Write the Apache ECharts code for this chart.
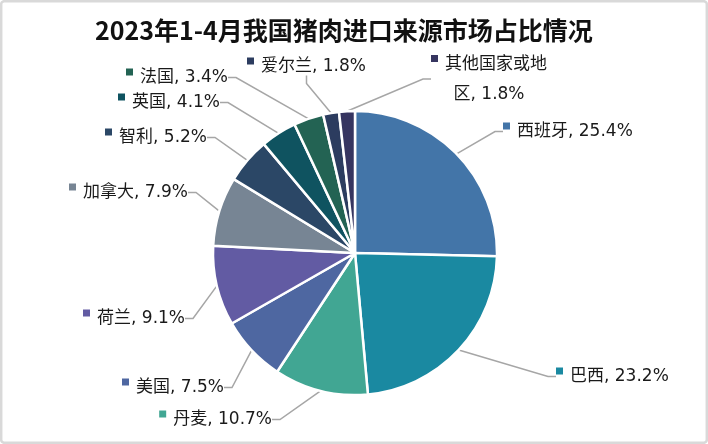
<!DOCTYPE html>
<html><head><meta charset="utf-8">
<script src="https://cdn.jsdelivr.net/npm/echarts@6/dist/echarts.min.js"></script>
<style>html,body{margin:0;padding:0;background:#fff}#c{width:708px;height:444px}</style>
</head><body><div id="c"></div>
<script>
const titleText = '2023年1-4月我国猪肉进口来源市场占比情况';
const categories = ['西班牙','巴西','丹麦','美国','荷兰','加拿大','智利','英国','法国','爱尔兰','其他国家或地区'];
const shares = [25.4, 23.2, 10.7, 7.5, 9.1, 7.9, 5.2, 4.1, 3.4, 1.8, 1.8];
const labelNames = ['西班牙','巴西','丹麦','美国','荷兰','加拿大','智利','英国','法国','爱尔兰','其他国家或地\n区'];
const colors = ['#4375a8','#1a89a1','#41a693','#4e67a1','#625ba3','#778594','#2b4766','#0f5360','#236353','#2c3c5f','#363560'];
const labelAnchors = [
  [503,132,'left','middle'],[556,377,'left','middle'],[272,420,'right','middle'],[224,388,'right','middle'],[185,319,'right','middle'],
  [188,193,'right','middle'],[207,138,'right','middle'],[220,103,'right','middle'],[228,78,'right','middle'],[247,67,'left','middle'],[489,55,'center','top']
];

const font = 'DejaVu Sans, Noto Sans CJK SC';
const rich = {
  t: {fontSize:17, fontFamily:font, color:'#1a1a1a', lineHeight:19, padding:[0,0,0,7]},
  t3: {fontSize:17, fontFamily:font, color:'#1a1a1a', lineHeight:41}
};
colors.forEach((c,i)=>{ rich['m'+i] = {width:7, height:7, backgroundColor:c, verticalAlign:'top', fontSize:1, lineHeight:7}; });

const chart = echarts.init(document.getElementById('c'));
chart.setOption({
  animation:false,
  backgroundColor:'#fff',
  title:{text:titleText, left:90, top:13, textStyle:{fontSize:25, fontWeight:'bold', color:'#111', fontFamily:'Noto Sans CJK SC'}},
  graphic:[{type:'rect', shape:{x:1.2,y:1.2,width:705.6,height:441.6,r:3}, style:{fill:'none', stroke:'#d9d9d9', lineWidth:2.5}, silent:true}],
  series:[{
    type:'pie',
    center:[355,253],
    radius:[0,142],
    startAngle:90,
    clockwise:true,
    data:categories.map((n,i)=>({name:n, value:shares[i], itemStyle:{color:colors[i]}})),
    itemStyle:{borderColor:'#fff', borderWidth:2.5},
    label:{
      show:true,
      formatter:function(p){
        const i=p.dataIndex;
        const parts = (labelNames[i]+', '+shares[i]+'%').split('\n');
        let s = '{m'+i+'| }{t|'+parts[0]+'}';
        if (parts.length > 1) s += '\n{t3|'+parts[1]+'}';
        return s;
      },
      rich:rich
    },
    labelLine:{show:true, length:15, length2:8, lineStyle:{color:'#a6a6a6', width:1.5}},
    labelLayout:function(p){
      const a = labelAnchors[p.dataIndex];
      return {x:a[0], y:a[1], align:a[2], verticalAlign:a[3]};
    }
  }]
});
</script></body></html>
